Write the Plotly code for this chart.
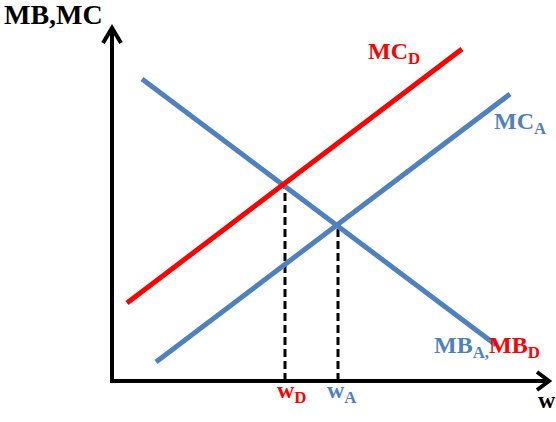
import plotly.graph_objects as go

# Data (units: abstract w / MB-MC units, origin at axes corner)
mc_d_w = [15, 350]
mc_d_v = [78, 332]
mb_a_w = [30, 384]
mb_a_v = [302, 36]
mc_a_w = [44, 398]
mc_a_v = [19, 287]
eq_w = [173, 226]      # w_D, w_A
eq_v = [195, 155]      # MB at equilibrium
x_axis_end = 437
y_axis_end = 353

RED = "#FF0000"
BLUE = "#4F81BD"
FONT = "Liberation Serif"

fig = go.Figure()

# axes
fig.add_trace(go.Scatter(x=[0, 0, x_axis_end], y=[y_axis_end, 0, 0], mode="lines",
                         line=dict(color="black", width=4), hoverinfo="skip"))
# arrow chevrons
fig.add_trace(go.Scatter(x=[-9, 0, 9], y=[y_axis_end - 15, y_axis_end, y_axis_end - 15], mode="lines",
                         line=dict(color="black", width=4), hoverinfo="skip"))
fig.add_trace(go.Scatter(x=[x_axis_end - 12, x_axis_end, x_axis_end - 12], y=[9, 0, -9], mode="lines",
                         line=dict(color="black", width=4), hoverinfo="skip"))

# dashed drop lines
for w, v in zip(eq_w, eq_v):
    fig.add_trace(go.Scatter(x=[w, w], y=[0, v], mode="lines",
                             line=dict(color="black", width=3, dash="8px,4px"), hoverinfo="skip"))

# curves
fig.add_trace(go.Scatter(x=mb_a_w, y=mb_a_v, mode="lines", line=dict(color=BLUE, width=5), hoverinfo="skip"))
fig.add_trace(go.Scatter(x=mc_a_w, y=mc_a_v, mode="lines", line=dict(color=BLUE, width=5), hoverinfo="skip"))
fig.add_trace(go.Scatter(x=mc_d_w, y=mc_d_v, mode="lines", line=dict(color=RED, width=5), hoverinfo="skip"))

def label(text, x, y, color, size):
    fig.add_annotation(x=x, y=y, xref="x", yref="y", text=text, showarrow=False,
                       xanchor="left", yanchor="middle",
                       font=dict(family=FONT, size=size, color=color))

label("<b>MB,MC</b>", -110, 367, "black", 28)
label("<b>MC<sub>D</sub></b>", 254, 328, RED, 24)
label("<b>MC<sub>A</sub></b>", 380, 258, BLUE, 24)
label(f"<b><span style='color:{BLUE}'>MB<sub>A,</sub></span>MB<sub>D</sub></b>", 320, 34, RED, 24)
label("<b>w<sub>D</sub></b>", 163, -11, RED, 24)
label("<b>w<sub>A</sub></b>", 213, -11, BLUE, 24)
label("<b>w</b>", 424, -19, "black", 24)

fig.update_layout(
    width=556, height=422,
    margin=dict(l=0, r=0, t=0, b=0),
    paper_bgcolor="white", plot_bgcolor="white",
    showlegend=False,
    xaxis=dict(range=[-112, 444], visible=False, fixedrange=True),
    yaxis=dict(range=[-41, 381], visible=False, fixedrange=True),
)

fig.write_html("out.html", config={"displayModeBar": False},
               post_script="document.body.style.margin='0';document.body.style.overflow='hidden';")
